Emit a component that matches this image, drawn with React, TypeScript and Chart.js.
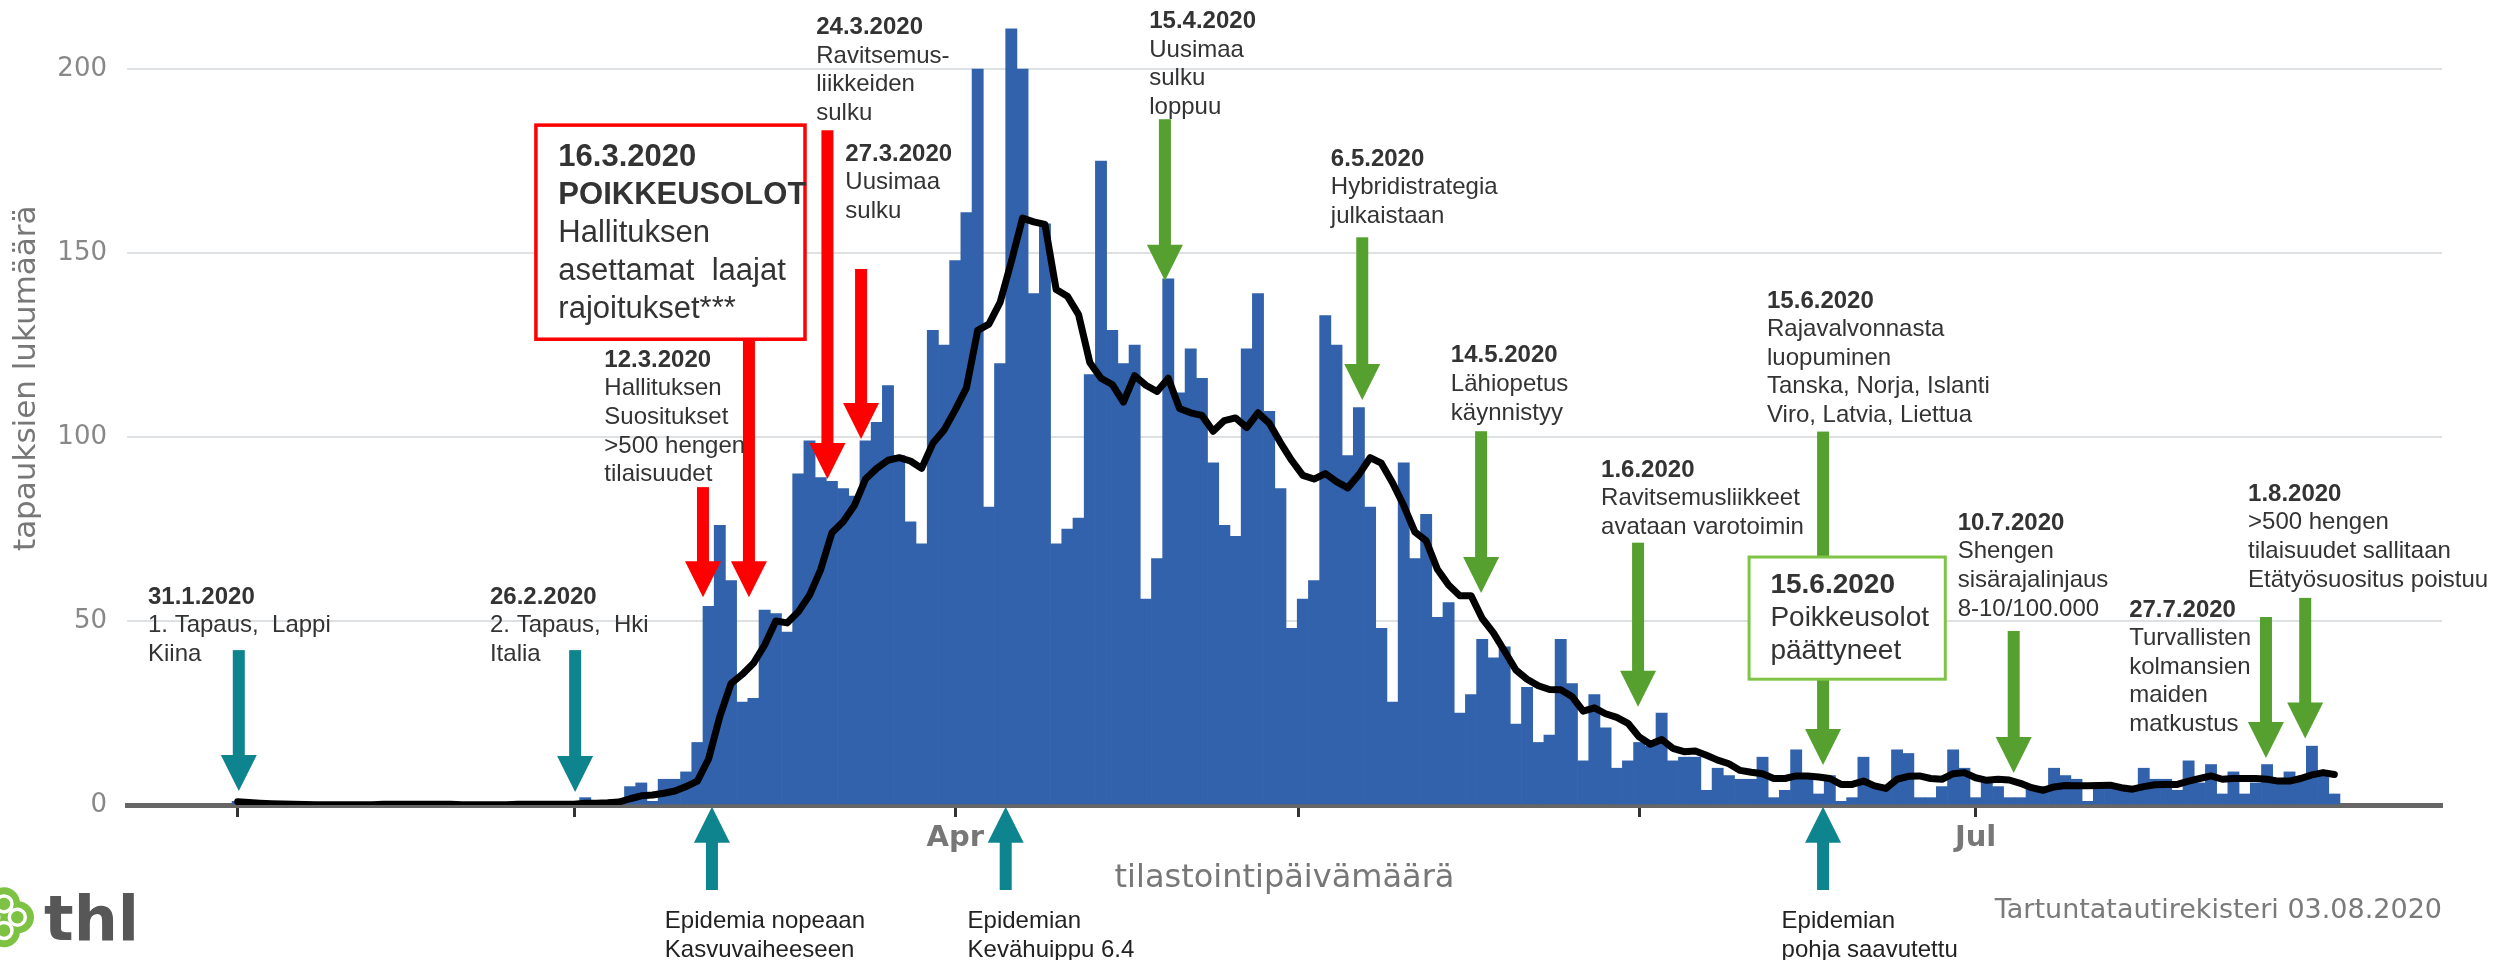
import React, { useEffect, useRef } from 'react';
import { Chart, registerables } from 'chart.js';

Chart.register(...registerables);

const W = 2494;
const H = 960;

// Day index 0 = 28.1.2020 (tilastointipäivämäärä)
const casesJan = [1, 0, 0, 0];
const casesFeb = [0, 0, 0, 0, 0, 0, 0, 0, 0, 1, 0, 0, 0, 0, 0, 0, 0, 0, 0, 0, 0, 1, 0, 0, 0, 0, 0, 2, 0];
const casesMar = [1, 1, 5, 6, 1, 7, 7, 9, 17, 54, 76, 61, 28, 29, 53, 52, 47, 90, 99, 89, 88, 86, 84, 99, 104, 114, 95, 77, 71, 129, 125];
const casesApr = [148, 161, 200, 81, 120, 211, 200, 139, 158, 71, 75, 78, 117, 175, 129, 120, 125, 56, 67, 143, 112, 124, 116, 93, 76, 73, 124, 139, 107, 86];
const casesMay = [48, 56, 61, 133, 125, 95, 108, 81, 48, 28, 93, 67, 79, 51, 55, 25, 30, 45, 40, 43, 22, 32, 17, 19, 45, 33, 12, 30, 21, 10, 12];
const casesJun = [17, 16, 25, 12, 13, 13, 4, 10, 8, 7, 7, 13, 2, 4, 15, 8, 3, 8, 1, 2, 13, 5, 5, 15, 14, 2, 2, 5, 15, 10];
const casesJul = [2, 6, 5, 2, 2, 5, 5, 10, 8, 7, 1, 5, 5, 5, 5, 10, 7, 7, 4, 12, 6, 11, 3, 9, 3, 6, 11, 6, 9, 7, 16];
const casesAug = [8, 3];

// 7 vrk liukuva keskiarvo
const avgJan = [0.9, 0.7, 0.5, 0.35];
const avgFeb = [0.25, 0.2, 0.15, 0.1, 0.1, 0.1, 0.1, 0.1, 0.1, 0.2, 0.2, 0.2, 0.2, 0.2, 0.2, 0.2, 0.1, 0.1, 0.1, 0.1, 0.1, 0.2, 0.2, 0.2, 0.2, 0.2, 0.2, 0.5, 0.5];
const avgMar = [0.6, 0.8, 1.7, 2.5, 2.7, 3.2, 3.8, 5, 6.5, 12.5, 24, 33, 35.5, 38.5, 43.5, 50, 49.5, 52.5, 57, 64, 74, 77, 81.4, 88.6, 91.5, 93.7, 94.4, 93.5, 91.5, 98.3, 101.9];
const avgApr = [107.4, 113.4, 129, 130.7, 136.6, 147.7, 159.5, 158.5, 157.8, 140.1, 138.3, 133.3, 120.3, 116, 114.3, 109.5, 116.7, 114.1, 112.4, 116, 107.8, 106.6, 105.9, 101.6, 104.5, 105.2, 102.6, 106.6, 103.8, 98.5];
const avgMay = [93.7, 89.6, 88.6, 90.1, 87.9, 86.2, 89.8, 94.4, 92.9, 87.6, 81.4, 74.2, 71.8, 64.1, 59.8, 56.9, 56.9, 50.7, 46.8, 41.8, 36.7, 34.2, 32.4, 31.4, 31.3, 29.5, 25.5, 26.4, 24.8, 23.8, 22.2];
const avgJun = [18.5, 16.5, 17.8, 15.4, 14.5, 14.7, 13.5, 12.2, 11.2, 9.4, 8.9, 8.5, 7.2, 7.2, 7.9, 7.9, 7.6, 7.2, 5.6, 5.6, 6.5, 5.2, 4.5, 7, 7.8, 7.9, 7.2, 7, 8.5, 8.8];
const avgJul = [7.4, 6.7, 7, 6.8, 5.9, 4.7, 4, 4.9, 5.3, 5.2, 5.2, 5.3, 5.4, 4.7, 4.3, 5, 5.5, 5.6, 5.6, 6.5, 7.2, 7.9, 7, 7.2, 7.2, 7.2, 7, 6.5, 6.5, 7.2, 8.2];
const avgAug = [8.8, 8.3];

// x axis (day index) ticks and labels
const tickDays = [0, 30, 64, 94.6, 125, 155];
const tickLabels = ['', '', 'Apr', '', '', 'Jul'];
const yTicks = [0, 50, 100, 150, 200];
const X_MIN = -9.87;
const X_MAX = 196.6;
const Y_MAX = 215;

const dailyCases = [...casesJan, ...casesFeb, ...casesMar, ...casesApr, ...casesMay, ...casesJun, ...casesJul, ...casesAug];
const movingAvg = [...avgJan, ...avgFeb, ...avgMar, ...avgApr, ...avgMay, ...avgJun, ...avgJul, ...avgAug];

const TEAL = '#0e848e';
const RED = '#ff0000';
const GREEN = '#55a02f';
const BOX_GREEN = '#7fc447';
const TXT = '#333333';
const SANS = '"Liberation Sans", Arial, sans-serif';
const DEJAVU = '"DejaVu Sans", sans-serif';

type Note = { day: number; val: number; lines: string[] };
const notes: Note[] = [
  { day: -8.0, val: 56.5, lines: ['31.1.2020', '1. Tapaus,  Lappi', 'Kiina'] },
  { day: 22.5, val: 56.5, lines: ['26.2.2020', '2. Tapaus,  Hki', 'Italia'] },
  { day: 32.7, val: 120.9, lines: ['12.3.2020', 'Hallituksen', 'Suositukset', '>500 hengen', 'tilaisuudet'] },
  { day: 51.6, val: 211.3, lines: ['24.3.2020', 'Ravitsemus-', 'liikkeiden', 'sulku'] },
  { day: 54.2, val: 176.9, lines: ['27.3.2020', 'Uusimaa', 'sulku'] },
  { day: 81.3, val: 213, lines: ['15.4.2020', 'Uusimaa', 'sulku', 'loppuu'] },
  { day: 97.5, val: 175.6, lines: ['6.5.2020', 'Hybridistrategia', 'julkaistaan'] },
  { day: 108.2, val: 122.1, lines: ['14.5.2020', 'Lähiopetus', 'käynnistyy'] },
  { day: 121.6, val: 91.0, lines: ['1.6.2020', 'Ravitsemusliikkeet', 'avataan varotoimin'] },
  { day: 136.4, val: 137, lines: ['15.6.2020', 'Rajavalvonnasta', 'luopuminen', 'Tanska, Norja, Islanti', 'Viro, Latvia, Liettua'] },
  { day: 153.4, val: 76.6, lines: ['10.7.2020', 'Shengen', 'sisärajalinjaus', '8-10/100.000'] },
  { day: 168.7, val: 53, lines: ['27.7.2020', 'Turvallisten', 'kolmansien', 'maiden', 'matkustus'] },
  { day: 179.3, val: 84.5, lines: ['1.8.2020', '>500 hengen', 'tilaisuudet sallitaan', 'Etätyösuositus poistuu'] },
];

type Arrow = { day: number; from: number; to: number; color: string };
const arrows: Arrow[] = [
  { day: 0.1, from: 42.1, to: 3.8, color: TEAL },
  { day: 30.1, from: 42.1, to: 3.5, color: TEAL },
  { day: 41.5, from: 86.4, to: 56.5, color: RED },
  { day: 45.6, from: 126.6, to: 56.5, color: RED },
  { day: 52.6, from: 183.4, to: 88.6, color: RED },
  { day: 55.6, from: 145.7, to: 99.5, color: RED },
  { day: 82.7, from: 186.4, to: 142.5, color: GREEN },
  { day: 100.3, from: 154.3, to: 110.1, color: GREEN },
  { day: 110.9, from: 101.6, to: 57.6, color: GREEN },
  { day: 124.9, from: 71.3, to: 26.7, color: GREEN },
  { day: 141.4, from: 101.5, to: 10.9, color: GREEN },
  { day: 158.4, from: 47.3, to: 8.7, color: GREEN },
  { day: 180.9, from: 51.1, to: 12.8, color: GREEN },
  { day: 184.4, from: 56.3, to: 18.1, color: GREEN },
  { day: 42.3, from: -23.1, to: -0.5, color: TEAL },
  { day: 68.5, from: -23.1, to: -0.5, color: TEAL },
  { day: 141.4, from: -23.1, to: -0.5, color: TEAL },
];

const bottomNotes: Note[] = [
  { day: 38.1, val: -31.5, lines: ['Epidemia nopeaan', 'Kasvuvaiheeseen'] },
  { day: 65.1, val: -31.5, lines: ['Epidemian', 'Kevähuippu 6.4'] },
  { day: 137.7, val: -31.5, lines: ['Epidemian', 'pohja saavutettu'] },
];

const redBox = { d0: 26.6, d1: 50.6, v0: 184.8, v1: 126.6, textDay: 28.6, textVal: 176.1, lines: ['16.3.2020', 'POIKKEUSOLOT', 'Hallituksen', 'asettamat  laajat', 'rajoitukset***'] };
const greenBox = { d0: 134.8, d1: 152.3, v0: 67.4, v1: 34.2, textDay: 136.7, textVal: 59.8, lines: ['15.6.2020', 'Poikkeusolot', 'päättyneet'] };

function drawArrow(ctx: CanvasRenderingContext2D, x: number, yFrom: number, yTo: number, color: string) {
  const dir = yTo > yFrom ? 1 : -1;
  const headLen = 36;
  const headW = 36;
  const shaftW = 12;
  const yBase = yTo - dir * headLen;
  ctx.fillStyle = color;
  const top = Math.min(yFrom, yBase + dir);
  ctx.fillRect(x - shaftW / 2, top, shaftW, Math.abs(yBase + dir - yFrom));
  ctx.beginPath();
  ctx.moveTo(x - headW / 2, yBase);
  ctx.lineTo(x + headW / 2, yBase);
  ctx.lineTo(x, yTo);
  ctx.closePath();
  ctx.fill();
}

function drawLines(ctx: CanvasRenderingContext2D, x: number, y: number, lines: string[], size: number, lh: number, boldCount: number, color = TXT) {
  ctx.fillStyle = color;
  ctx.textAlign = 'left';
  ctx.textBaseline = 'middle';
  lines.forEach((t, i) => {
    ctx.font = `${i < boldCount ? 'bold ' : ''}${size}px ${SANS}`;
    ctx.fillText(t, x, y + i * lh);
  });
}

const annotationPlugin = {
  id: 'thlAnnotations',
  afterDraw(chart: any) {
    const { ctx, scales } = chart;
    const xs = scales.x;
    const ys = scales.y;
    const px = (d: number) => xs.getPixelForValue(d);
    const py = (v: number) => ys.getPixelForValue(v);
    const area = chart.chartArea;
    ctx.save();

    arrows.forEach((a) => drawArrow(ctx, px(a.day), py(a.from), py(a.to), a.color));

    const boxes = [
      { b: redBox, color: RED, lw: 3.5, size: 31, lh: 38, bold: 2 },
      { b: greenBox, color: BOX_GREEN, lw: 3, size: 28, lh: 33, bold: 1 },
    ];
    boxes.forEach(({ b, color, lw, size, lh, bold }) => {
      const x0 = px(b.d0);
      const x1 = px(b.d1);
      const y0 = py(b.v0);
      const y1 = py(b.v1);
      ctx.fillStyle = '#ffffff';
      ctx.fillRect(x0, y0, x1 - x0, y1 - y0);
      ctx.strokeStyle = color;
      ctx.lineWidth = lw;
      ctx.strokeRect(x0, y0, x1 - x0, y1 - y0);
      drawLines(ctx, px(b.textDay), py(b.textVal), b.lines, size, lh, bold);
    });

    notes.forEach((n) => drawLines(ctx, px(n.day), py(n.val), n.lines, 24, 28.6, 1));
    bottomNotes.forEach((n) => drawLines(ctx, px(n.day), py(n.val), n.lines, 24, 29, 0, '#222222'));

    // y axis title
    ctx.save();
    ctx.translate(area.left - 100.5, py(116));
    ctx.rotate(-Math.PI / 2);
    ctx.textAlign = 'center';
    ctx.textBaseline = 'middle';
    ctx.fillStyle = '#777777';
    ctx.font = `31px ${DEJAVU}`;
    ctx.fillText('tapauksien lukumäärä', 0, 0);
    ctx.restore();

    // source
    ctx.textAlign = 'right';
    ctx.textBaseline = 'middle';
    ctx.fillStyle = '#7a7a7a';
    ctx.font = `27px ${DEJAVU}`;
    ctx.fillText('Tartuntatautirekisteri 03.08.2020', area.right, py(-28.8));

    // thl logo
    const lx = 4;
    const ly = py(-30.5);
    const petals = [[0, -14], [14, 0], [0, 14], [-14, 0]];
    ctx.fillStyle = '#7dc243';
    petals.forEach(([dx, dy]) => {
      ctx.beginPath();
      ctx.arc(lx + dx, ly + dy, 16, 0, Math.PI * 2);
      ctx.fill();
    });
    ctx.strokeStyle = '#ffffff';
    ctx.lineWidth = 3.5;
    petals.forEach(([dx, dy]) => {
      ctx.beginPath();
      ctx.arc(lx + dx * 0.95, ly + dy * 0.95, 8, 0, Math.PI * 2);
      ctx.stroke();
    });
    ctx.fillStyle = '#575757';
    ctx.font = `bold 62px ${DEJAVU}`;
    ctx.textAlign = 'left';
    ctx.textBaseline = 'alphabetic';
    ctx.fillText('thl', 44, ly + 23);

    ctx.restore();
  },
};

export default function App() {
  const ref = useRef<HTMLCanvasElement>(null);

  useEffect(() => {
    const canvas = ref.current;
    if (!canvas) return;
    const barData = dailyCases.map((v, i) => ({ x: i, y: v }));
    const lineData = movingAvg.map((v, i) => ({ x: i, y: v }));

    const chart = new Chart(canvas, {
      type: 'bar',
      data: {
        datasets: [
          {
            type: 'line',
            label: '7 vrk keskiarvo',
            data: lineData,
            borderColor: '#000000',
            borderWidth: 7,
            pointRadius: 0,
            tension: 0,
            borderJoinStyle: 'round',
            borderCapStyle: 'round',
            order: 0,
          } as any,
          {
            type: 'bar',
            label: 'Tapaukset',
            data: barData,
            backgroundColor: '#3162ab',
            borderWidth: 0,
            barPercentage: 1,
            categoryPercentage: 1,
            order: 1,
          } as any,
        ],
      },
      options: {
        responsive: false,
        animation: false,
        devicePixelRatio: 1,
        layout: { padding: { top: 14, right: 52, bottom: 0, left: 0 } },
        plugins: { legend: { display: false }, tooltip: { enabled: false } },
        scales: {
          x: {
            type: 'linear',
            min: X_MIN,
            max: X_MAX,
            offset: false,
            afterFit: (s: any) => {
              s.height = 155;
              s.paddingLeft = 0;
              s.paddingRight = 0;
            },
            afterBuildTicks: (s: any) => {
              s.ticks = tickDays.map((v) => ({ value: v }));
            },
            grid: {
              display: true,
              drawOnChartArea: false,
              drawTicks: true,
              tickLength: 12,
              tickWidth: 3,
              tickColor: '#333333',
              offset: false,
            },
            border: { display: true, color: '#666666', width: 5 },
            ticks: {
              autoSkip: false,
              maxRotation: 0,
              padding: 4,
              color: '#777777',
              font: { family: DEJAVU, size: 29, weight: 'bold' },
              callback: (v: any) => {
                const i = tickDays.indexOf(Number(v));
                return i >= 0 ? tickLabels[i] : '';
              },
            },
            title: {
              display: true,
              text: 'tilastointipäivämäärä',
              color: '#777777',
              font: { family: DEJAVU, size: 32 },
              padding: { top: 0, bottom: 62 },
            },
          } as any,
          y: {
            type: 'linear',
            min: 0,
            max: Y_MAX,
            afterFit: (s: any) => {
              s.width = 127;
              s.paddingTop = 0;
              s.paddingBottom = 0;
            },
            afterBuildTicks: (s: any) => {
              s.ticks = yTicks.map((v) => ({ value: v }));
            },
            grid: { color: '#dde1e4', lineWidth: 2, drawTicks: false },
            border: { display: false },
            ticks: { padding: 20, color: '#888888', font: { family: DEJAVU, size: 26 } },
          } as any,
        },
      },
      plugins: [annotationPlugin],
    });
    return () => chart.destroy();
  }, []);

  return (
    <div style={{ position: 'fixed', left: 0, top: 0, width: W, height: H, background: '#ffffff' }}>
      <canvas ref={ref} width={W} height={H} style={{ display: 'block', width: W, height: H }} />
    </div>
  );
}
